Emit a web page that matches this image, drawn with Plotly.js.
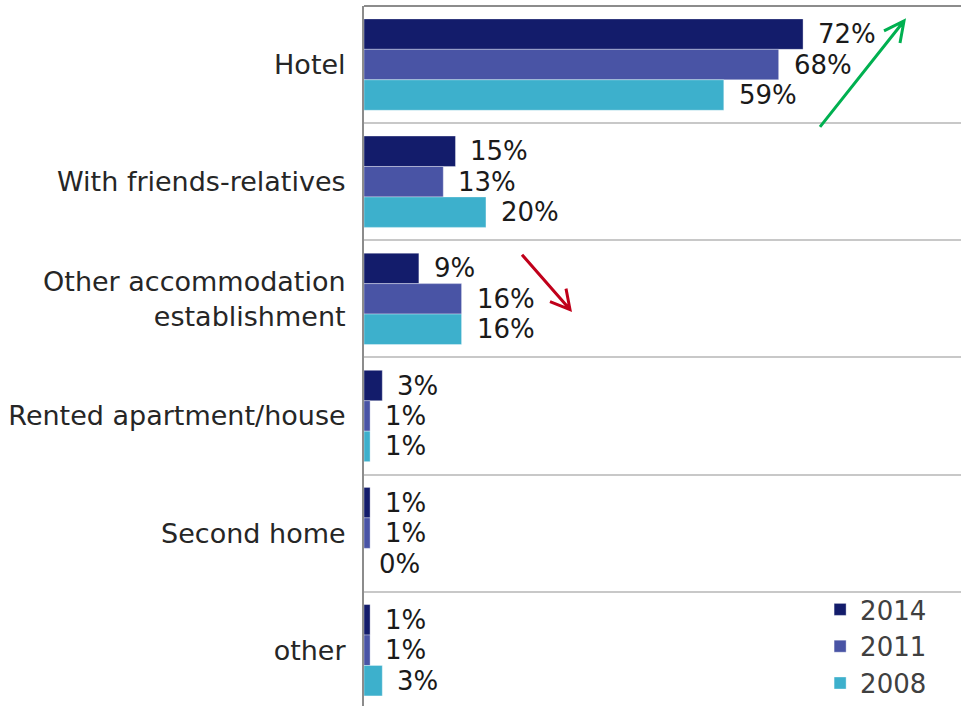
<!DOCTYPE html>
<html>
<head>
<meta charset="utf-8">
<script src="https://cdn.plot.ly/plotly-3.0.1.min.js"></script>
<style>html,body{margin:0;padding:0;background:#fff;}#chart{width:961px;height:707px;}</style>
</head>
<body>
<div id="chart"></div>
<script>
const categories = ["Hotel", "With friends-relatives", "Other accommodation<br>establishment", "Rented apartment/house", "Second home", "other"];
const seriesNames = ["2014", "2011", "2008"];
const values2014 = [72, 15, 9, 3, 1, 1];
const values2011 = [68, 13, 16, 1, 1, 1];
const values2008 = [59, 20, 16, 1, 0, 3];
const seriesColors = ["#131c6b", "#4954a5", "#3db0cc"];

const allSeries = [values2014, values2011, values2008];
const FONT = "DejaVu Sans, Verdana, sans-serif";

const traces = allSeries.map((vals, i) => ({
  type: "bar",
  orientation: "h",
  name: seriesNames[i],
  x: vals,
  y: categories,
  marker: {color: seriesColors[i], line: {color: "rgba(255,255,255,0.35)", width: 1}},
  hoverinfo: "x+name"
}));

// value labels via annotations positioned at data values
const bargap = 0.22;
const barW = (1 - bargap) / 3;
const annotations = [];
allSeries.forEach((vals, s) => {
  vals.forEach((v, c) => {
    annotations.push({
      xref: "x", yref: "y",
      x: v, y: c + (s - 1) * barW,
      text: v + "%", showarrow: false,
      xanchor: "left", yanchor: "middle", xshift: 13,
      font: {family: FONT, size: 26, color: "#1a1a1a"}
    });
  });
});

// decorative trend arrows (pixel -> paper helpers)
const L = 364, T = 6, W = 597, H = 701;
const px = v => (v - L) / W;
const py = v => 1 - (v - T) / H;
function arrowPath(pts) {
  return "M" + px(pts[0][0]) + "," + py(pts[0][1]) + " L" + px(pts[1][0]) + "," + py(pts[1][1]) +
    " M" + px(pts[2][0]) + "," + py(pts[2][1]) + " L" + px(pts[1][0]) + "," + py(pts[1][1]) +
    " L" + px(pts[3][0]) + "," + py(pts[3][1]);
}
const shapes = [
  {type: "path", xref: "paper", yref: "paper", path: arrowPath([[820,127],[904,21],[884,31],[900,43]]),
   line: {color: "#00b050", width: 3}},
  {type: "path", xref: "paper", yref: "paper", path: arrowPath([[522,255],[570,310],[550,302],[566,289]]),
   line: {color: "#c0001a", width: 3}},
  {type: "line", xref: "paper", yref: "paper", x0: 0, x1: 1, y0: 1, y1: 1, line: {color: "#8c8c8c", width: 2}}
];

const layout = {
  width: 961, height: 707,
  margin: {l: 364, r: 0, t: 6, b: 0, pad: 0},
  paper_bgcolor: "#fff", plot_bgcolor: "#fff",
  barmode: "group", bargap: bargap, bargroupgap: 0,
  font: {family: FONT, size: 26, color: "#262626"},
  xaxis: {range: [0, 97.9], showgrid: false, zeroline: false, showticklabels: false, showline: false, fixedrange: true},
  yaxis: {
    type: "category", range: [5.476, -0.5], tickson: "boundaries",
    showgrid: true, gridcolor: "#c8c8c8", gridwidth: 2,
    showline: true, linecolor: "#8c8c8c", linewidth: 2,
    ticks: "", ticklabelstandoff: 11,
    tickfont: {family: FONT, size: 27, color: "#262626"}
  },
  showlegend: true,
  legend: {
    x: 0.764, y: 0.172, xanchor: "left", yanchor: "top",
    font: {family: FONT, size: 26, color: "#404040"},
    bgcolor: "rgba(0,0,0,0)", traceorder: "normal"
  },
  annotations: annotations,
  shapes: shapes
};

Plotly.newPlot("chart", traces, layout, {displayModeBar: false, staticPlot: true});
</script>
</body>
</html>
